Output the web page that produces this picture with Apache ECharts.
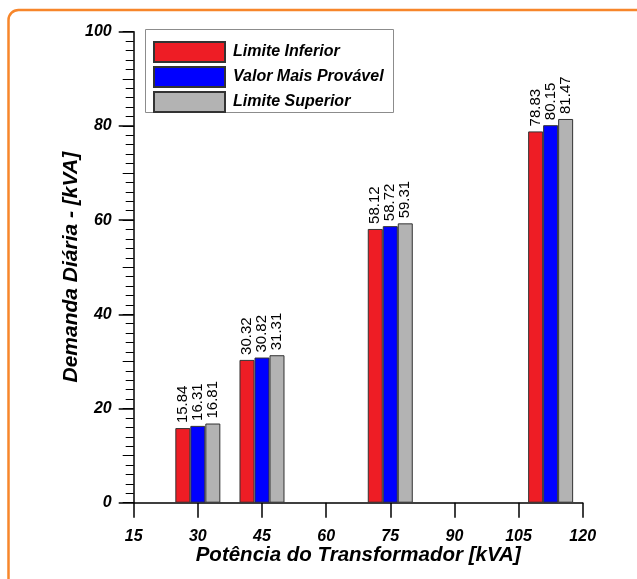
<!DOCTYPE html>
<html>
<head>
<meta charset="utf-8">
<title>Demanda Diária por Potência do Transformador</title>
<script src="https://cdn.jsdelivr.net/npm/echarts@6/dist/echarts.min.js"></script>
<style>
  html, body { margin: 0; padding: 0; background: #ffffff; }
  #chart { width: 637px; height: 579px; }
</style>
</head>
<body>
<div id="chart"></div>
<script>
// Transformer ratings (kVA) where each group of bars is placed
const potencias = [30, 45, 75, 112.5];

// Daily demand estimates (kVA)
const limiteInferior = [15.84, 30.32, 58.12, 78.83];
const valorMaisProvavel = [16.31, 30.82, 58.72, 80.15];
const limiteSuperior = [16.81, 31.31, 59.31, 81.47];

const seriesNames = ['Limite Inferior', 'Valor Mais Provável', 'Limite Superior'];
const seriesColors = ['#ee1d25', '#0000ff', '#b3b3b3'];

const FONT = '"Liberation Sans", Arial, sans-serif';

const chart = echarts.init(document.getElementById('chart'), null, { renderer: 'canvas' });

function makeSeries(name, values, color) {
  return {
    name: name,
    type: 'bar',
    xAxisIndex: 0,
    yAxisIndex: 0,
    barWidth: 15,
    barGap: '0%',
    data: potencias.map((p, i) => [p, values[i]]),
    itemStyle: { color: color, borderColor: '#333333', borderWidth: 1 },
    label: {
      show: true,
      position: 'top',
      rotate: 90,
      align: 'left',
      verticalAlign: 'middle',
      distance: 5,
      fontFamily: FONT,
      fontSize: 15,
      color: '#000000',
      formatter: p => p.value[1].toFixed(2)
    },
    emphasis: { disabled: true },
    animation: false
  };
}

const option = {
  animation: false,
  backgroundColor: '#ffffff',
  graphic: [
    {
      type: 'rect',
      shape: { x: 8.5, y: 10, width: 700, height: 700, r: 10 },
      style: { fill: 'none', stroke: '#f7862b', lineWidth: 2.5 },
      silent: true
    },
    {
      type: 'rect',
      shape: { x: 145.5, y: 29.5, width: 248, height: 83 },
      style: { fill: '#ffffff', stroke: '#8c8c8c', lineWidth: 1 },
      silent: true,
      z: 5
    }
  ],
  legend: {
    orient: 'vertical',
    left: 153,
    top: 41,
    padding: 0,
    itemWidth: 71,
    itemHeight: 20,
    itemGap: 3,
    icon: 'rect',
    z: 10,
    selectedMode: false,
    data: seriesNames,
    textStyle: {
      fontFamily: FONT,
      fontSize: 16,
      fontWeight: 'bold',
      fontStyle: 'italic',
      color: '#000000',
      padding: [0, 0, 0, 3]
    }
  },
  grid: {
    left: 133.7,
    right: 54.3,
    top: 31.7,
    bottom: 76.3,
    containLabel: false
  },
  xAxis: {
    type: 'value',
    min: 15,
    max: 120,
    interval: 15,
    name: 'Potência do Transformador [kVA]',
    nameLocation: 'middle',
    nameGap: 43,
    nameMoveOverlap: false,
    nameTextStyle: {
      fontFamily: FONT,
      fontSize: 20.5,
      fontWeight: 'bold',
      fontStyle: 'italic',
      color: '#000000'
    },
    axisLine: { show: true, onZero: false, lineStyle: { color: '#000000', width: 1.5 } },
    axisTick: { show: true, inside: false, length: 15, lineStyle: { color: '#000000', width: 1.5 } },
    axisLabel: {
      margin: 26,
      fontFamily: FONT,
      fontSize: 16,
      fontWeight: 'bold',
      fontStyle: 'italic',
      color: '#000000'
    },
    splitLine: { show: false }
  },
  yAxis: [
    {
      type: 'value',
      min: 0,
      max: 100,
      interval: 20,
      name: 'Demanda Diária - [kVA]',
      nameLocation: 'middle',
      nameGap: 52,
      nameRotate: 90,
      nameMoveOverlap: false,
      nameTextStyle: {
        fontFamily: FONT,
        fontSize: 21,
        fontWeight: 'bold',
        fontStyle: 'italic',
        color: '#000000'
      },
      axisLine: { show: true, onZero: false, lineStyle: { color: '#000000', width: 1.5 } },
      axisTick: { show: true, inside: false, length: 15, lineStyle: { color: '#000000', width: 1.5 } },
      minorTick: { show: true, splitNumber: 10, length: 8, lineStyle: { color: '#000000', width: 1 } },
      axisLabel: {
        margin: 22,
        fontFamily: FONT,
        fontSize: 16,
        fontWeight: 'bold',
        fontStyle: 'italic',
        color: '#000000'
      },
      splitLine: { show: false }
    },
    {
      // mid-decade ticks (every 10)
      type: 'value',
      position: 'left',
      offset: 0,
      min: 0,
      max: 100,
      interval: 10,
      axisLine: { show: false },
      axisTick: { show: true, inside: false, length: 11, lineStyle: { color: '#000000', width: 1 } },
      axisLabel: { show: false },
      splitLine: { show: false }
    }
  ],
  series: [
    makeSeries(seriesNames[0], limiteInferior, seriesColors[0]),
    makeSeries(seriesNames[1], valorMaisProvavel, seriesColors[1]),
    makeSeries(seriesNames[2], limiteSuperior, seriesColors[2])
  ]
};

chart.setOption(option);
</script>
</body>
</html>
